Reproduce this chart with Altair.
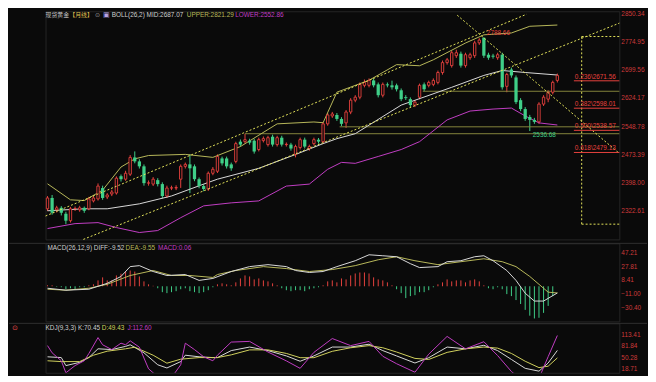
import altair as alt
import pandas as pd

# ---------------- data ----------------
opens = [2327.9, 2357.0, 2325.2, 2330.5, 2314.6, 2296.0, 2327.9, 2325.2, 2330.5, 2327.9,
         2349.1, 2354.4, 2383.6, 2359.7, 2367.7, 2370.3, 2415.4, 2407.4, 2420.7, 2465.8,
         2455.2, 2441.9, 2396.8, 2394.2, 2404.8, 2394.2, 2362.3, 2383.6, 2383.6, 2407.4,
         2441.9, 2447.2, 2441.9, 2407.4, 2388.9, 2380.9, 2423.3, 2428.7, 2463.1, 2463.1,
         2447.2, 2455.2, 2508.2, 2508.2, 2510.9, 2510.9, 2487.0, 2510.9, 2500.3, 2521.5,
         2500.3, 2518.8, 2500.3, 2500.3, 2473.7, 2492.3, 2513.5, 2489.7, 2502.9, 2513.5,
         2508.2, 2556.0, 2577.2, 2579.8, 2569.2, 2558.6, 2587.8, 2619.6, 2627.6, 2659.4,
         2659.4, 2672.6, 2662.0, 2632.9, 2662.0, 2659.4, 2659.4, 2646.1, 2627.6, 2622.3,
         2606.3, 2627.6, 2662.0, 2659.4, 2662.0, 2667.3, 2693.9, 2720.4, 2712.4, 2739.0,
         2744.3, 2712.4, 2733.6, 2739.0, 2773.4, 2787.0, 2741.6, 2739.0, 2733.6, 2741.6,
         2656.7, 2701.8, 2680.6, 2619.6, 2595.7, 2574.5, 2566.6, 2561.3, 2609.0, 2622.3,
         2640.8, 2672.6]
closes = [2357.0, 2317.3, 2330.5, 2317.3, 2296.0, 2327.9, 2328.5, 2330.5, 2322.6, 2354.4,
          2357.0, 2388.9, 2357.0, 2365.0, 2373.0, 2410.1, 2407.4, 2423.3, 2465.8, 2455.2,
          2441.9, 2396.8, 2397.5, 2407.4, 2394.2, 2362.3, 2383.6, 2384.2, 2385.0, 2441.9,
          2447.2, 2436.6, 2407.4, 2388.9, 2380.9, 2423.3, 2434.0, 2468.4, 2449.9, 2441.9,
          2436.6, 2502.9, 2500.3, 2513.5, 2505.6, 2481.7, 2513.5, 2516.2, 2518.8, 2500.3,
          2518.8, 2500.3, 2501.0, 2489.7, 2495.0, 2513.5, 2495.0, 2495.0, 2513.5, 2508.2,
          2556.0, 2579.8, 2582.5, 2569.2, 2556.0, 2587.8, 2619.6, 2627.6, 2662.0, 2667.3,
          2672.6, 2659.4, 2632.9, 2662.0, 2659.4, 2654.1, 2648.8, 2622.3, 2625.0, 2606.3,
          2614.3, 2659.4, 2648.8, 2667.3, 2672.6, 2693.9, 2720.4, 2728.0, 2747.0, 2747.0,
          2712.4, 2741.6, 2741.6, 2773.4, 2781.0, 2739.0, 2733.6, 2736.3, 2741.6, 2654.1,
          2688.6, 2686.0, 2614.3, 2595.7, 2569.2, 2566.6, 2561.3, 2609.0, 2627.6, 2640.8,
          2667.3, 2686.0]
highs = [2362, 2365, 2336, 2335, 2320, 2333, 2334, 2336, 2334, 2360,
         2363, 2396, 2390, 2370, 2379, 2415, 2420, 2430, 2472, 2482,
         2461, 2447, 2404, 2413, 2410, 2399, 2390, 2390, 2391, 2447,
         2452, 2474, 2447, 2412, 2394, 2428, 2440, 2474, 2468, 2468,
         2452, 2508, 2514, 2529.5, 2516, 2516, 2519, 2522, 2524, 2527,
         2524, 2524, 2506, 2505, 2500, 2519, 2519, 2500, 2519, 2518,
         2561, 2585, 2588, 2585, 2574, 2593, 2625, 2633, 2667, 2675,
         2678, 2678, 2667, 2667, 2667, 2672, 2664, 2651, 2633, 2627,
         2620, 2664, 2667, 2672, 2678, 2699, 2726, 2733, 2752, 2755,
         2750, 2747, 2747, 2779, 2786, 2788.66, 2747, 2744, 2747, 2747,
         2693, 2707, 2686, 2625, 2601, 2580, 2572, 2614, 2633, 2646,
         2672, 2691]
lows = [2322, 2312, 2318, 2310, 2286.65, 2291, 2322, 2320, 2317, 2324,
        2345, 2350, 2352, 2354, 2362, 2366, 2401, 2403, 2416, 2450,
        2436, 2390, 2390, 2389, 2388, 2356, 2357, 2378, 2378, 2384,
        2436, 2370, 2402, 2383, 2375, 2376, 2418, 2424, 2444, 2436,
        2430, 2450, 2495, 2503, 2500, 2476, 2482, 2506, 2495, 2495,
        2495, 2495, 2495, 2484, 2466, 2487, 2490, 2484, 2498, 2503,
        2503, 2551, 2572, 2564, 2550, 2545, 2582, 2614, 2622, 2654,
        2654, 2654, 2627, 2627, 2654, 2648, 2643, 2617, 2620, 2601,
        2601, 2622, 2643.5, 2654, 2657, 2662, 2688, 2715, 2707, 2733,
        2707, 2707, 2728, 2733, 2768, 2733, 2728, 2731, 2728, 2648,
        2640.8, 2680, 2609, 2590, 2564, 2536.68, 2556, 2556, 2604, 2614,
        2635, 2667]

# Bollinger (26,2) lines read at sample candles
upper_i = [0, 5, 8, 12, 16, 19, 22, 30, 36, 42, 50, 58, 60, 63, 70, 76, 81, 84, 91, 95, 101, 105, 111]
upper_v = [2395, 2352, 2350, 2378, 2440, 2462, 2471, 2474, 2466, 2495, 2556, 2561, 2559, 2641,
           2673, 2715, 2712, 2728, 2773, 2795, 2800, 2818, 2821.29]
mid_i = [0, 8, 13, 20, 27, 34, 37, 46, 54, 60, 63, 67, 77, 88, 95, 99, 104, 111]
mid_v = [2322.6, 2327.9, 2327.9, 2341.2, 2362.3, 2394.2, 2407.4, 2436.6, 2473.7, 2502.9,
         2516.2, 2529.5, 2606.3, 2654.1, 2686.0, 2699.2, 2693.9, 2687.07]
lower_i = [0, 6, 11, 15, 20, 24, 29, 34, 40, 46, 52, 57, 61, 64, 67, 72, 77, 81, 87, 92, 97, 101, 104, 107, 111]
lower_v = [2274.8, 2288.1, 2290.8, 2277.5, 2264.2, 2269.5, 2304.0, 2335.8, 2343.8, 2349.1,
           2388.9, 2394.2, 2434.0, 2452.5, 2449.9, 2468.4, 2487.0, 2508.2, 2566.6, 2590.4,
           2595.7, 2598.4, 2577.2, 2558.6, 2552.86]

# drawn trend lines (start / end points)
trend_name = ["up", "up", "low", "low", "down", "down"]
trend_i = [-0.43, 104.3, 7.8, 124.5, 89.2, 124.5]
trend_p = [2308.5, 2850.34, 2245.7, 2826.5, 2847.7, 2476.4]

# horizontal support lines
hline_p = [2643.5, 2548.0, 2529.5]
hline_start = [81.7, 63.6, 43.0]

# Fibonacci retracement
fib_ratio = ["0.236", "0.382", "0.500", "0.618"]
fib_level = [2671.56, 2598.01, 2538.57, 2479.13]
fib_top, fib_bottom = 2790.45, 2286.65

# MACD(26,12,9)
diff_i = [0, 4, 9, 13, 16, 18, 20, 23, 26, 30, 33, 36, 40, 44, 48, 52, 54, 57, 60, 63, 67, 70,
          73, 76, 79, 81, 85, 87, 90, 93, 95, 97, 100, 102, 104, 106, 108, 111]
diff_v = [-2.8, -5.6, -4.2, 4.2, 14.0, 28.1, 29.5, 21.1, 15.4, 16.8, 8.4, 11.2, 21.1, 28.1, 30.9,
          28.1, 22.5, 19.7, 21.1, 28.1, 36.5, 45.0, 43.6, 42.2, 32.3, 26.7, 28.1, 35.1, 36.5,
          42.2, 43.6, 36.5, 22.5, 8.4, -9.9, -21.1, -21.1, -9.52]
dea_i = [0, 4, 9, 13, 18, 23, 27, 31, 36, 37, 41, 47, 52, 57, 62, 67, 72, 76, 80, 85, 90, 95,
         99, 102, 105, 108, 109, 111]
dea_v = [-4.2, -5.6, -2.8, 2.8, 15.4, 22.5, 15.4, 15.4, 12.6, 16.8, 22.5, 28.1, 25.3, 21.1, 23.9,
         29.5, 37.9, 42.2, 36.5, 30.9, 35.1, 39.3, 35.1, 28.1, 14.0, -2.8, -8.4, -9.55]
macd_hist = [1.4, 1.4, -0.7, -1.4, -4.2, -2.8, -4.2, -1.4, -1.4, 1.4,
             2.8, 8.4, 12.7, 8.4, 8.4, 15.5, 18.0, 21.0, 22.5, 21.0,
             14.0, 7.0, 2.8, 0.7, -2.8, -8.4, -9.8, -8.4, -7.0, -4.2,
             -2.8, -7.0, -8.4, -9.8, -8.4, -5.6, -1.4, 2.8, 4.2, 2.8,
             1.4, 5.6, 11.2, 15.5, 14.0, 9.8, 11.2, 8.4, 7.0, 4.2,
             1.4, -2.8, -5.6, -7.0, -5.6, -5.6, -7.0, -4.2, -2.8, -1.4,
             1.4, 7.0, 8.4, 5.6, 11.2, 9.8, 15.5, 18.3, 19.7, 19.7,
             18.3, 12.7, 9.8, 8.4, 5.6, 1.4, -4.2, -9.8, -16.9, -14.0,
             -12.7, -8.4, -8.4, -5.6, -1.4, 2.8, 5.6, 9.8, 7.0, 8.4,
             8.4, 5.6, 8.4, 9.8, 7.0, 1.4, -2.8, -4.2, -1.4, -4.2,
             -11.2, -14.0, -19.7, -25.3, -33.7, -42.0, -46.0, -45.0, -38.0, -28.0,
             -14.0, 0.06]

# KDJ(9,3,3)
k_i = [0, 3, 4, 7, 9, 11, 14, 17, 18, 21, 24, 26, 29, 30, 33, 36, 37, 40, 44, 48, 52, 55, 58,
       62, 66, 70, 73, 76, 80, 83, 87, 91, 95, 98, 101, 104, 107, 109, 111]
k_v = [52.5, 50.3, 27.7, 36.8, 50.3, 75.1, 72.8, 81.9, 86.4, 63.8, 30, 21, 39, 57, 52.5, 50.3,
       50.3, 70, 80, 70, 55, 40, 55, 80, 80, 88, 70, 55, 35, 50, 80, 75, 85, 70, 45, 20, 12, 35, 70.45]
d_i = [0, 3, 7, 10, 13, 17, 19, 23, 26, 29, 33, 37, 40, 44, 48, 52, 55, 58, 62, 66, 70, 73, 76,
       80, 83, 87, 91, 95, 98, 101, 104, 107, 109, 111]
d_v = [41.3, 39, 39, 57, 68.3, 75.1, 79.6, 57, 34.5, 45.8, 50.3, 50.3, 58, 72, 72, 62, 50, 50, 68,
       78, 84, 78, 66, 48, 45, 65, 75, 80, 77, 62, 40, 22, 26, 49.43]
j_i = [0, 1, 2, 3, 4, 6, 8, 9, 11, 12, 14, 16, 17, 18, 20, 22, 24, 27, 29, 30, 32, 34, 36, 37,
       40, 44, 48, 52, 55, 58, 62, 66, 70, 73, 76, 80, 83, 87, 91, 95, 98, 101, 104, 107, 109, 111]
j_v = [84.1, 63.8, 52.5, 41.3, 7.4, 27.7, 41.3, 61.6, 106.7, 86.4, 72.8, 90.9, 86.4, 97.6, 79.6,
       18.7, -3.8, -6.1, 30, 90.9, 72.8, 52.5, 41.3, 57, 94, 96, 66, 41, 20, 65, 104, 84, 96, 54,
       33, 9, 60, 110, 75, 95, 56, 11, -20, -8, 53, 112.6]

price_ticks = [2850.34, 2774.95, 2699.56, 2624.17, 2548.78, 2473.39, 2398.00, 2322.61]
macd_ticks = [47.21, 27.81, 8.41, -11.00, -30.40]
kdj_ticks = [113.41, 81.84, 50.28, 18.71]

# ---------------- styling ----------------
BG = "#0a0a0a"
RED = "#e8423e"
GREEN = "#3fcf88"
AXRED = "#cf3a3a"
GRID = "#383838"
YEL = "#e4e45a"
OLIVE = "#b9b95a"
HOLIVE = "#85853c"
WHITE = "#dadada"
MAG = "#c23ec4"
FONT = "Liberation Sans"
CJK = "Noto Sans CJK SC"
FS = 6.5

W = 581
H_MAIN, H_MACD, H_KDJ = 231, 79, 50
X_DOM = [-0.43, 124.5]
P_DOM = [2245.7, 2858.3]
M_DOM = [-50.15, 61.32]
K_DOM = [7.57, 146.8]
ONE = pd.DataFrame({"a": [0]})


def xq(field="i"):
    return alt.X(f"{field}:Q", scale=alt.Scale(domain=X_DOM, nice=False, zero=False, padding=0), axis=None)


def yq(field, dom, axis=None):
    return alt.Y(f"{field}:Q", scale=alt.Scale(domain=dom, nice=False, zero=False, padding=0), axis=axis)


def left_axis(vals):
    return alt.Axis(values=vals, format=".2f", title=None, labelColor=AXRED, labelFont=FONT,
                    labelFontSize=FS, ticks=False, domain=False, grid=True, gridColor=GRID,
                    gridDash=[1, 2], gridWidth=1, labelPadding=2, minExtent=37, maxExtent=37,
                    labelOverlap=False, labelFlush=False)


def txt(s, px, py, color, size=FS, font=FONT):
    return alt.Chart(ONE).mark_text(text=s, color=color, fontSize=size, font=font,
                                    align="left", baseline="middle").encode(
        x=alt.value(px), y=alt.value(py))


def right_labels(vals, dom):
    return alt.Chart(pd.DataFrame({"v": vals})).mark_text(
        align="left", baseline="middle", fontSize=FS, font=FONT, color=AXRED).encode(
        x=alt.value(W + 2), y=yq("v", dom), text=alt.Text("v:Q", format=".2f"))


def sep(py):
    return alt.Chart(ONE).mark_rule(color="#303030", strokeWidth=1).encode(
        x=alt.value(-37), x2=alt.value(W + 28), y=alt.value(py))


def series(ix, vals, color, dom, width=1.0, clip=False):
    return alt.Chart(pd.DataFrame({"i": ix, "v": vals})).mark_line(
        color=color, strokeWidth=width, clip=clip).encode(x=xq(), y=yq("v", dom))


# ---------------- main panel ----------------
cdf = pd.DataFrame({"i": list(range(len(opens))), "O": opens, "C": closes, "H": highs, "L": lows})
cdf["dir"] = ["up" if c >= o else "down" for o, c in zip(opens, closes)]

wicks = alt.Chart(cdf).mark_rule(strokeWidth=1).encode(
    x=xq(), y=yq("H", P_DOM, left_axis(price_ticks)), y2="L:Q",
    color=alt.Color("dir:N", scale=alt.Scale(domain=["up", "down"], range=[RED, GREEN]), legend=None))
up_body = alt.Chart(cdf[cdf["dir"] == "up"]).mark_bar(size=2.4, fill=BG, stroke=RED, strokeWidth=0.9).encode(
    x=xq(), y=yq("O", P_DOM), y2="C:Q")
dn_body = alt.Chart(cdf[cdf["dir"] == "down"]).mark_bar(size=3.3, color=GREEN).encode(
    x=xq(), y=yq("O", P_DOM), y2="C:Q")

tdf = pd.DataFrame({"seg": trend_name, "i": trend_i, "p": trend_p})
trends = alt.Chart(tdf).mark_line(color=YEL, strokeWidth=1, strokeDash=[2, 2]).encode(
    x=xq(), y=yq("p", P_DOM), detail="seg:N")

hdf = pd.DataFrame({"s": hline_start, "e": [X_DOM[1]] * len(hline_p), "p": hline_p})
hlines = alt.Chart(hdf).mark_rule(color=HOLIVE, strokeWidth=1).encode(
    x=xq("s"), x2="e:Q", y=yq("p", P_DOM))

fib_x0, fib_x1, fib_vx = 114.6, X_DOM[1], 116.3
fvert = alt.Chart(pd.DataFrame({"i": [fib_vx], "a": [fib_top], "b": [fib_bottom]})).mark_rule(
    color=YEL, strokeWidth=1, strokeDash=[2, 2]).encode(x=xq(), y=yq("a", P_DOM), y2="b:Q")
fends = alt.Chart(pd.DataFrame({"s": [fib_vx, fib_vx], "e": [fib_x1, fib_x1], "p": [fib_top, fib_bottom]})).mark_rule(
    color=YEL, strokeWidth=1, strokeDash=[2, 2]).encode(x=xq("s"), x2="e:Q", y=yq("p", P_DOM))
fdf = pd.DataFrame({"s": [fib_x0] * 4, "e": [fib_x1] * 4, "p": fib_level,
                    "t": [f"{r}\\{v:.2f}" for r, v in zip(fib_ratio, fib_level)]})
flines = alt.Chart(fdf).mark_rule(color=RED, strokeWidth=1).encode(x=xq("s"), x2="e:Q", y=yq("p", P_DOM))
ftext = alt.Chart(fdf).mark_text(align="left", baseline="bottom", dx=1, dy=-1, color=RED,
                                 fontSize=FS, font=FONT).encode(x=xq("s"), y=yq("p", P_DOM), text="t:N")

hi_lab = alt.Chart(pd.DataFrame({"i": [95], "p": [2788.66], "t": ["2788.66"]})).mark_text(
    align="left", baseline="middle", dx=3, dy=-4, color=RED, fontSize=FS, font=FONT).encode(
    x=xq(), y=yq("p", P_DOM), text="t:N")
lo_lab = alt.Chart(pd.DataFrame({"i": [105], "p": [2536.68], "t": ["2536.68"]})).mark_text(
    align="left", baseline="middle", dx=3, dy=4, color=GREEN, fontSize=FS, font=FONT).encode(
    x=xq(), y=yq("p", P_DOM), text="t:N")

bound = alt.Chart(ONE).mark_rule(opacity=0).encode(x=alt.value(-37), x2=alt.value(0), y=alt.value(100))

main = alt.layer(
    wicks, bound, hlines,
    series(lower_i, lower_v, MAG, P_DOM), series(mid_i, mid_v, WHITE, P_DOM),
    series(upper_i, upper_v, OLIVE, P_DOM),
    up_body, dn_body, trends, fvert, fends, flines, ftext, hi_lab, lo_lab,
    right_labels(price_ticks, P_DOM),
    txt("现货黄金", 0, 3.5, "#c8c8c8", 6, CJK),
    txt("【月线】", 24, 3.5, "#e0c050", 6, CJK),
    txt("⊙", 50, 3.5, "#9a9a9a", 6),
    txt("▣", 58, 3.5, "#b7a3e6", 7),
    txt("BOLL(26,2) MID:2687.07", 67, 3.5, "#d0d0d0"),
    txt("UPPER:2821.29", 143, 3.5, OLIVE),
    txt("LOWER:2552.86", 192, 3.5, MAG),
).properties(width=W, height=H_MAIN)

# ---------------- MACD panel ----------------
mdf = pd.DataFrame({"i": list(range(len(macd_hist))), "h": macd_hist})
mdf["sg"] = ["pos" if h >= 0 else "neg" for h in macd_hist]
hist = alt.Chart(mdf).mark_rule(strokeWidth=1).encode(
    x=xq(), y=yq("h", M_DOM, left_axis(macd_ticks)), y2=alt.datum(0),
    color=alt.Color("sg:N", scale=alt.Scale(domain=["pos", "neg"], range=[RED, GREEN]), legend=None))
macd = alt.layer(
    hist, sep(0),
    series(dea_i, dea_v, OLIVE, M_DOM), series(diff_i, diff_v, WHITE, M_DOM),
    right_labels(macd_ticks, M_DOM),
    txt("MACD(26,12,9) DIFF:-9.52", 2, 4.5, "#d0d0d0"),
    txt("DEA:-9.55", 81, 4.5, OLIVE),
    txt("MACD:0.06", 114, 4.5, MAG),
).properties(width=W, height=H_MACD)

# ---------------- KDJ panel ----------------
kline = alt.Chart(pd.DataFrame({"i": k_i, "v": k_v})).mark_line(color=WHITE, strokeWidth=1, clip=True).encode(
    x=xq(), y=yq("v", K_DOM, left_axis(kdj_ticks)))
kdj = alt.layer(
    kline, sep(0),
    series(d_i, d_v, "#d2d25e", K_DOM, clip=True),
    series(j_i, j_v, MAG, K_DOM, clip=True),
    right_labels(kdj_ticks, K_DOM),
    txt("⊙", -34, 4.5, "#e04848", 7),
    txt("KDJ(9,3,3) K:70.45", 0, 5, "#d0d0d0"),
    txt("D:49.43", 57, 5, "#d2d25e"),
    txt("J:112.60", 83, 5, MAG),
).properties(width=W, height=H_KDJ)

chart = alt.vconcat(main, macd, kdj, spacing=0).properties(
    padding=0, background=BG).configure_view(stroke="#262626", strokeWidth=1)

chart.save("out.html", embed_options={"renderer": "svg", "actions": False})
